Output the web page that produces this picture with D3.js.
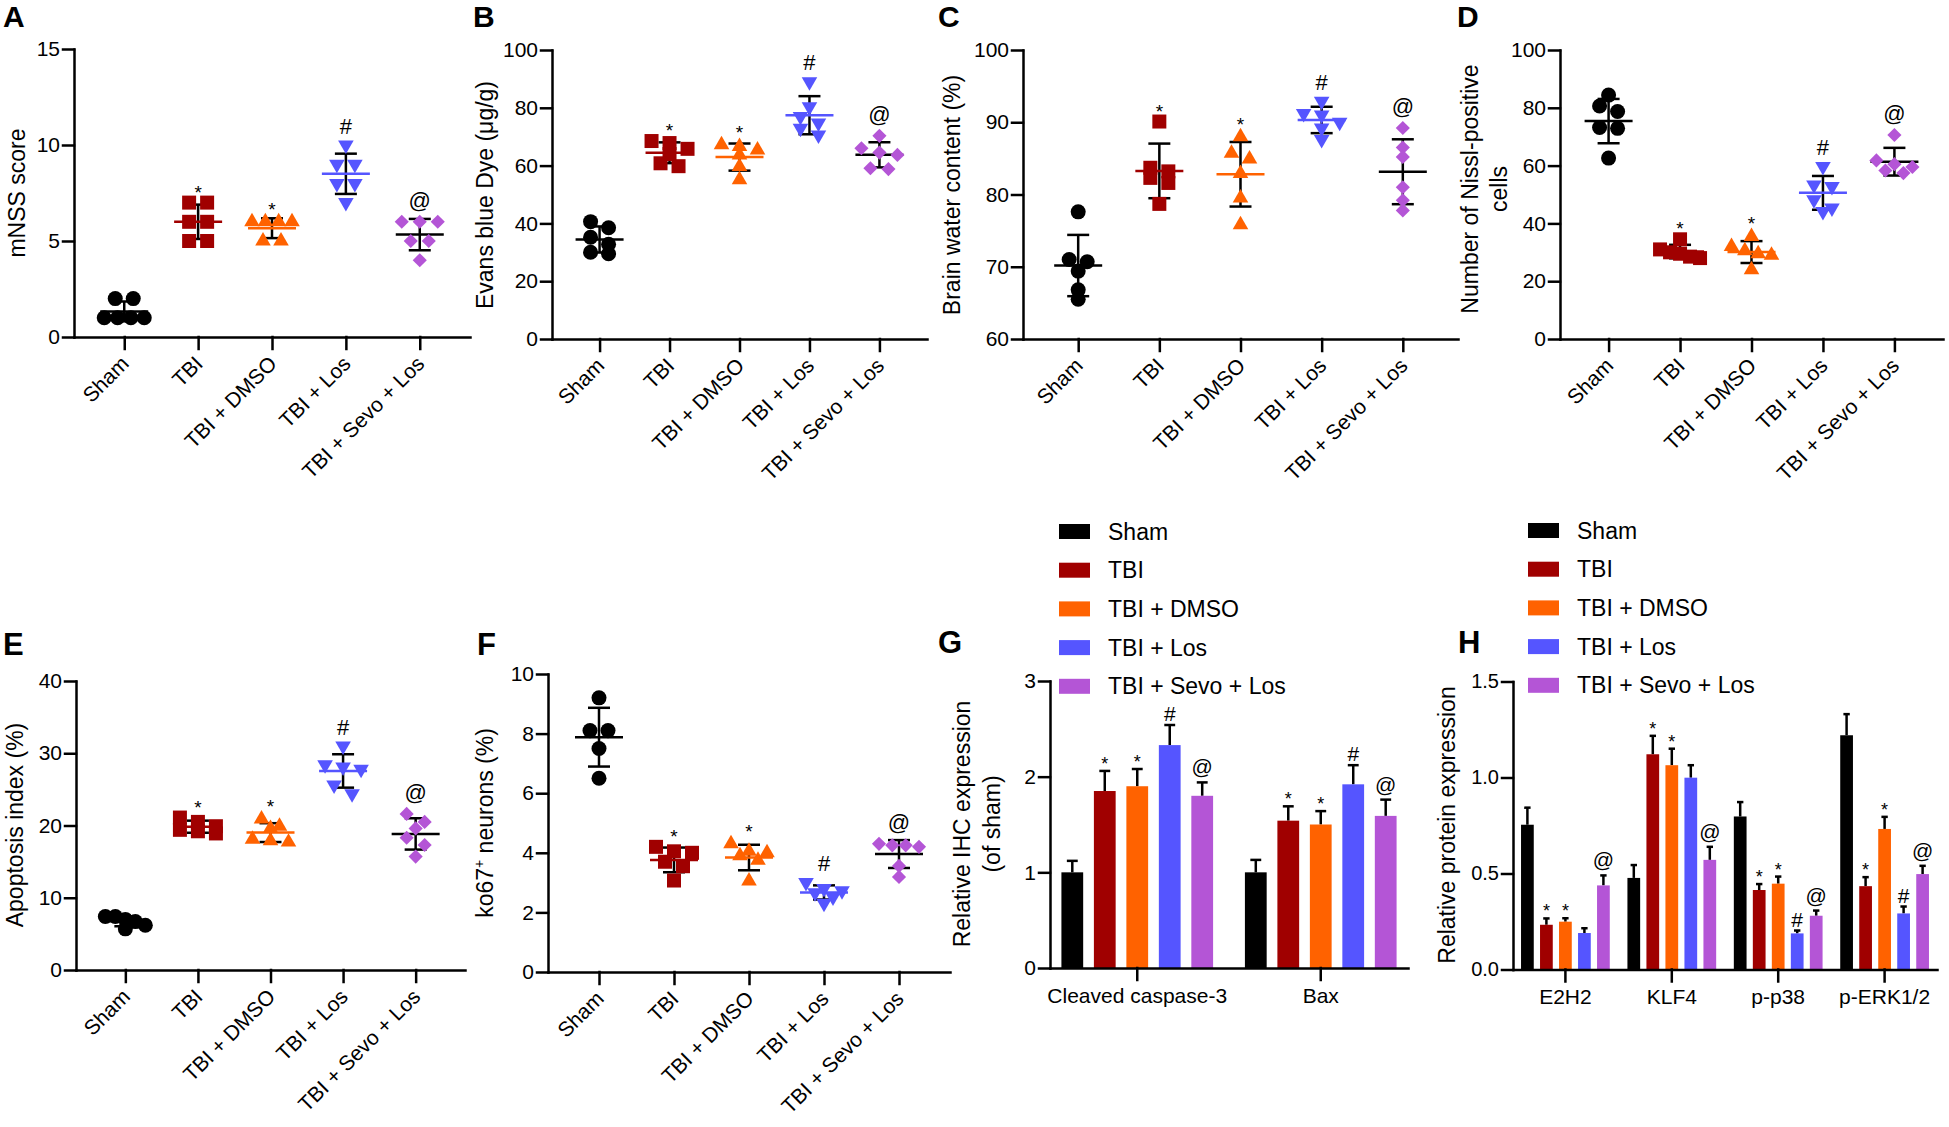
<!DOCTYPE html>
<html>
<head>
<meta charset="utf-8">
<script src="https://cdn.jsdelivr.net/npm/d3@7"></script>
<style>
  body { margin: 0; background: #fff; }
  svg { display: block; font-family: "Liberation Sans", Arial, sans-serif; }
</style>
</head>
<body>
<div id="chart"></div>
<script>
// groups shared by every panel
const groups = ["Sham", "TBI", "TBI + DMSO", "TBI + Los", "TBI + Sevo + Los"]
const groupColors = ["#000000", "#a00000", "#ff6200", "#5555ff", "#b455d6"]
const meanColors = ["#000000", "#a00000", "#ff6200", "#5555ff", "#000000"]
const markers = ["circle", "square", "triangle", "triangleDown", "diamond"]

// A - mNSS score (one array per group)
const mnssScore = [
    [2, 2, 1, 1, 1, 1],
    [7, 7, 6, 6, 5, 5],
    [6, 6, 6, 6, 5, 5],
    [10, 9, 9, 8, 8, 7],
    [6, 6, 6, 5, 5, 4]
]
// B - Evans blue dye
const evansBlue = [
    [40.6, 38.5, 35.2, 32.8, 30.0, 29.5],
    [68.5, 67.8, 65.8, 64.0, 60.8, 59.8],
    [67.2, 66.6, 65.4, 63.7, 59.7, 55.1],
    [89.0, 80.4, 77.0, 74.7, 72.9, 70.6],
    [70.3, 66.0, 64.5, 63.7, 59.1, 58.8]
]
// C - brain water content
const brainWater = [
    [77.6, 71.0, 70.7, 69.4, 66.8, 65.5],
    [90.1, 83.7, 83.2, 82.3, 81.6, 78.7],
    [88.0, 85.7, 84.9, 82.9, 79.5, 75.8],
    [92.9, 91.2, 91.0, 90.0, 89.2, 87.6],
    [89.2, 86.5, 85.2, 81.0, 79.2, 77.8]
]
// D - Nissl-positive cells
const nisslCells = [
    [84.4, 80.6, 78.7, 73.2, 72.9, 62.6],
    [34.5, 31.0, 30.0, 29.5, 28.5, 28.0],
    [35.5, 32.0, 30.5, 29.5, 29.0, 24.0],
    [59.7, 53.3, 52.8, 48.2, 45.3, 44.1],
    [70.6, 61.8, 60.5, 59.5, 58.3, 57.4]
]
// E - apoptosis index
const apoptosisIndex = [
    [7.4, 7.4, 7.0, 6.7, 6.2, 5.7],
    [21.1, 20.5, 19.9, 19.4, 19.2, 18.9],
    [20.9, 19.9, 19.6, 18.1, 17.9, 17.7],
    [31.0, 28.4, 28.1, 27.8, 25.6, 24.4],
    [21.6, 20.5, 19.6, 18.3, 17.3, 15.7]
]
// F - ko67+ neurons
const ko67Neurons = [
    [9.2, 8.1, 8.1, 7.5, 6.5],
    [4.2, 4.05, 4.0, 3.7, 3.55, 3.07],
    [4.3, 4.05, 4.0, 3.9, 3.75, 3.05],
    [3.0, 2.8, 2.73, 2.66, 2.52, 2.31],
    [4.3, 4.25, 4.25, 4.2, 3.56, 3.19]
]
const scatterSig = ["", "*", "*", "#", "@"]

// G - IHC expression
const ihcCats = ["Cleaved caspase-3", "Bax"]
const ihcMean = [
    [1.0, 1.85, 1.90, 2.33, 1.80],
    [1.0, 1.54, 1.50, 1.92, 1.59]
]
const ihcSD = [
    [0.12, 0.21, 0.18, 0.21, 0.14],
    [0.13, 0.15, 0.14, 0.20, 0.17]
]
const ihcSig = [
    ["", "*", "*", "#", "@"],
    ["", "*", "*", "#", "@"]
]

// H - western blot
const proteinCats = ["E2H2", "KLF4", "p-p38", "p-ERK1/2"]
const proteinMean = [
    [0.754, 0.233, 0.249, 0.190, 0.438],
    [0.477, 1.121, 1.064, 0.999, 0.571],
    [0.797, 0.414, 0.447, 0.188, 0.280],
    [1.220, 0.434, 0.732, 0.292, 0.497]
]
const proteinSD = [
    [0.089, 0.033, 0.018, 0.025, 0.052],
    [0.067, 0.096, 0.086, 0.065, 0.068],
    [0.075, 0.031, 0.037, 0.015, 0.027],
    [0.110, 0.047, 0.063, 0.036, 0.043]
]
const proteinSig = [
    ["", "*", "*", "", "@"],
    ["", "*", "*", "", "@"],
    ["", "*", "*", "#", "@"],
    ["", "*", "*", "#", "@"]
]

const FONT = "'Liberation Sans', Arial, sans-serif"
const svg = d3.select("#chart").append("svg")
    .attr("width", 1949)
    .attr("height", 1127)
svg.append("rect").attr("width", 1949).attr("height", 1127).attr("fill", "#fff")

// marker shapes, and how far each one reaches above its centre
const markerShape = {
    circle: { path: d3.symbol(d3.symbolCircle, 177)(), rot: 0, top: 7.5 },
    square: { path: d3.symbol(d3.symbolSquare, 196)(), rot: 0, top: 7 },
    triangle: { path: d3.symbol(d3.symbolTriangle, 105)(), rot: 0, top: 9 },
    triangleDown: { path: d3.symbol(d3.symbolTriangle, 105)(), rot: 180, top: 4.5 },
    diamond: { path: d3.symbol(d3.symbolSquare, 100)(), rot: 45, top: 7 }
}

function styleAxis(sel, size) {
    sel.attr("font-family", FONT).attr("font-size", size)
    sel.selectAll("path, line").attr("stroke", "#000").attr("stroke-width", 2.5).attr("stroke-linecap", "square")
    sel.selectAll("text").attr("fill", "#000")
}

function panelLetter(letter, x, y, size) {
    svg.append("text")
        .attr("x", x).attr("y", y)
        .attr("font-size", size).attr("font-weight", "bold")
        .attr("font-family", FONT)
        .text(letter)
}

function yTitle(lines, xs, cy, size) {
    lines.forEach((line, i) => {
        const t = svg.append("text")
            .attr("transform", "rotate(-90)")
            .attr("x", -cy).attr("y", xs[i])
            .attr("text-anchor", "middle")
            .attr("font-size", size)
            .attr("font-family", FONT)
        if (Array.isArray(line)) {
            line.forEach(part => {
                t.append("tspan").attr("font-size", part.size || size).attr("dy", part.dy || 0).text(part.t)
            })
        } else {
            t.text(line)
        }
    })
}

// rows of near-equal values are spread sideways, centred on the column
function swarmOffsets(vals, y) {
    const idx = vals.map((v, i) => i).sort((a, b) => vals[b] - vals[a])
    const rows = []
    let cur = null
    idx.forEach(i => {
        const py = y(vals[i])
        if (cur && Math.abs(py - cur.start) < 9) cur.items.push(i)
        else { cur = { start: py, items: [i] }; rows.push(cur) }
    })
    const off = vals.map(() => 0)
    rows.forEach(r => {
        const n = r.items.length
        const s = n > 1 ? Math.min(18, 40 / (n - 1)) : 0
        r.items.forEach((i, k) => { off[i] = (k - (n - 1) / 2) * s })
    })
    return off
}

const sigFont = { "*": 19, "#": 22, "@": 22 }

function scatterPanel(cfg, data) {
    const g = svg.append("g")
    const x = d3.scalePoint().domain(groups).range([cfg.x0, cfg.x1]).padding(0.68)
    const y = d3.scaleLinear().domain(cfg.domain).range([cfg.yBot, cfg.yTop])

    const yAxis = g.append("g")
        .attr("transform", `translate(${cfg.x0},0)`)
        .call(d3.axisLeft(y).tickValues(cfg.ticks).tickSize(11).tickPadding(3).tickSizeOuter(0))
    styleAxis(yAxis, 21)

    const xAxis = g.append("g")
        .attr("transform", `translate(0,${cfg.yBot})`)
        .call(d3.axisBottom(x).tickSize(12).tickSizeOuter(0).tickFormat(""))
    styleAxis(xAxis, 21)

    g.selectAll(".xlab").data(groups).join("text")
        .attr("class", "xlab")
        .attr("transform", d => `translate(${x(d) + 6},${cfg.yBot + 28}) rotate(-45)`)
        .attr("text-anchor", "end")
        .attr("font-size", 21)
        .attr("font-family", FONT)
        .text(d => d)

    data.forEach((vals, gi) => {
        const cx = x(groups[gi])
        const mean = d3.mean(vals)
        const sd = d3.deviation(vals)
        const shape = markerShape[markers[gi]]

        // error bar
        g.append("line").attr("x1", cx).attr("x2", cx).attr("y1", y(mean - sd)).attr("y2", y(mean + sd))
            .attr("stroke", "#000").attr("stroke-width", 2.5)
        ;[mean - sd, mean + sd].forEach(v => {
            g.append("line").attr("x1", cx - 11).attr("x2", cx + 11).attr("y1", y(v)).attr("y2", y(v))
                .attr("stroke", "#000").attr("stroke-width", 2.5)
        })
        g.append("line").attr("x1", cx - 24).attr("x2", cx + 24).attr("y1", y(mean)).attr("y2", y(mean))
            .attr("stroke", meanColors[gi]).attr("stroke-width", 2.5)

        const off = swarmOffsets(vals, y)
        g.selectAll(null).data(vals).join("path")
            .attr("d", shape.path)
            .attr("transform", (d, i) => `translate(${cx + off[i]},${y(d)}) rotate(${shape.rot})`)
            .attr("fill", groupColors[gi])

        const sym = scatterSig[gi]
        if (sym) {
            const topY = Math.min(y(d3.max(vals)) - shape.top, y(mean + sd))
            g.append("text")
                .attr("x", cx).attr("y", topY + (sym === "*" ? 3 : -7))
                .attr("text-anchor", "middle")
                .attr("font-size", sigFont[sym])
                .attr("font-family", FONT)
                .text(sym)
        }
    })
}

function barPanel(cfg, cats, means, sds, sigs) {
    const g = svg.append("g")
    const x0 = d3.scaleBand().domain(cats).range([cfg.x0, cfg.x1])
        .paddingInner(cfg.padInner).paddingOuter(cfg.padOuter)
    const x1 = d3.scaleBand().domain(groups).range([0, x0.bandwidth()])
        .paddingInner(0.33).paddingOuter(0.165)
    const y = d3.scaleLinear().domain(cfg.domain).range([cfg.yBot, cfg.yTop])

    const yAxis = g.append("g")
        .attr("transform", `translate(${cfg.x0},0)`)
        .call(d3.axisLeft(y).tickValues(cfg.ticks).tickSize(11).tickPadding(3).tickSizeOuter(0)
            .tickFormat(cfg.fmt))
    styleAxis(yAxis, cfg.tickFont)

    cats.forEach((cat, ci) => {
        groups.forEach((grp, gi) => {
            const bx = x0(cat) + x1(grp)
            const bw = x1.bandwidth()
            const m = means[ci][gi]
            const top = y(m + sds[ci][gi])
            g.append("line").attr("x1", bx + bw / 2).attr("x2", bx + bw / 2).attr("y1", y(m)).attr("y2", top)
                .attr("stroke", "#000").attr("stroke-width", 2.5)
            g.append("line").attr("x1", bx + bw / 4).attr("x2", bx + bw * 3 / 4).attr("y1", top).attr("y2", top)
                .attr("stroke", "#000").attr("stroke-width", 2.5)
            g.append("rect")
                .attr("x", bx).attr("width", bw)
                .attr("y", y(m)).attr("height", cfg.yBot - y(m))
                .attr("fill", groupColors[gi])
            const sym = sigs[ci][gi]
            if (sym) {
                const shift = { "*": -1, "#": -4, "@": -8 }[sym]
                g.append("text")
                    .attr("x", bx + bw / 2).attr("y", top + shift)
                    .attr("text-anchor", "middle")
                    .attr("font-size", sym === "*" ? 18 : 21)
                    .attr("font-family", FONT)
                    .text(sym)
            }
        })
    })

    const xAxis = g.append("g")
        .attr("transform", `translate(0,${cfg.yBot})`)
        .call(d3.axisBottom(x0).tickSize(12).tickPadding(8).tickSizeOuter(0))
    styleAxis(xAxis, 21)

    // legend
    const lg = g.append("g")
    groups.forEach((grp, gi) => {
        const ly = cfg.legY + gi * 38.7
        lg.append("rect").attr("x", cfg.legX).attr("y", ly - 7.5).attr("width", 31).attr("height", 15)
            .attr("fill", groupColors[gi])
        lg.append("text").attr("x", cfg.legX + 49).attr("y", ly).attr("dy", "0.35em")
            .attr("font-size", 23).attr("font-family", FONT)
            .text(grp)
    })
}

// ---- top row
panelLetter("A", 3, 27, 30)
scatterPanel({ x0: 74, x1: 470, yTop: 49, yBot: 337, domain: [0, 15], ticks: [0, 5, 10, 15] }, mnssScore)
yTitle(["mNSS score"], [25], 193, 23)

panelLetter("B", 473, 27, 30)
scatterPanel({ x0: 552, x1: 927, yTop: 50, yBot: 339, domain: [0, 100], ticks: d3.range(0, 101, 20) }, evansBlue)
yTitle(["Evans blue Dye (μg/g)"], [493], 195, 23)

panelLetter("C", 938, 27, 30)
scatterPanel({ x0: 1023, x1: 1458, yTop: 50, yBot: 339, domain: [60, 100], ticks: d3.range(60, 101, 10) }, brainWater)
yTitle(["Brain water content (%)"], [960], 195, 23)

panelLetter("D", 1457, 27, 30)
scatterPanel({ x0: 1560, x1: 1943, yTop: 50, yBot: 339, domain: [0, 100], ticks: d3.range(0, 101, 20) }, nisslCells)
yTitle(["Number of Nissl-positive", "cells"], [1478, 1507], 189, 23)

// ---- bottom row
panelLetter("E", 3, 655, 31)
scatterPanel({ x0: 76, x1: 465, yTop: 681, yBot: 970, domain: [0, 40], ticks: d3.range(0, 41, 10) }, apoptosisIndex)
yTitle(["Apoptosis index (%)"], [23], 825, 23)

panelLetter("F", 477, 655, 31)
scatterPanel({ x0: 548, x1: 950, yTop: 674, yBot: 972, domain: [0, 10], ticks: d3.range(0, 11, 2) }, ko67Neurons)
yTitle([[{ t: "ko67" }, { t: "+", size: 14, dy: -9 }, { t: " neurons (%)", dy: 9 }]], [493], 823, 23)

panelLetter("G", 938, 653, 31)
barPanel({
    x0: 1050, x1: 1408, yTop: 681, yBot: 968, domain: [0, 3], ticks: [0, 1, 2, 3],
    fmt: d3.format("d"), tickFont: 21, padInner: 0.115, padOuter: 0.033, legX: 1059, legY: 531.5
}, ihcCats, ihcMean, ihcSD, ihcSig)
yTitle(["Relative IHC expression", "(of sham)"], [970, 1000], 824, 23)

panelLetter("H", 1458, 653, 31)
barPanel({
    x0: 1513, x1: 1937, yTop: 681.5, yBot: 969.5, domain: [0, 1.5], ticks: [0, 0.5, 1, 1.5],
    fmt: d3.format(".1f"), tickFont: 20, padInner: 0.107, padOuter: 0.046, legX: 1528, legY: 530.5
}, proteinCats, proteinMean, proteinSD, proteinSig)
yTitle(["Relative protein expression"], [1455], 825, 23)
</script>
</body>
</html>
